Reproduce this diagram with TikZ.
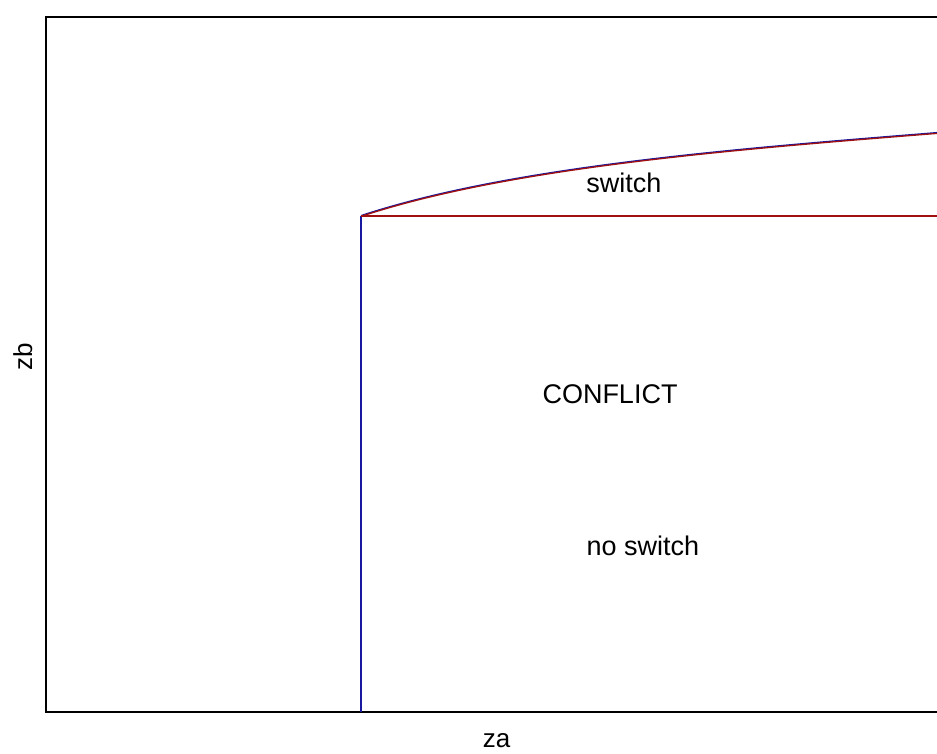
\documentclass[tikz,border=0pt]{standalone}
\usepackage{fontspec}
\setmainfont{Liberation Sans}
\definecolor{lineblue}{RGB}{24,24,160}
\definecolor{linered}{RGB}{160,16,16}
\begin{document}
\begin{tikzpicture}[x=1pt,y=-1pt,
  lbl/.style={font=\fontsize{27}{30}\selectfont, inner sep=0pt, anchor=base},
  axislbl/.style={font=\fontsize{26}{30}\selectfont, inner sep=0pt, anchor=base},
  bluecurve/.style={draw=lineblue, line width=1.3pt},
  redcurve/.style={draw=linered, line width=1.3pt}]
\useasboundingbox (0,0) rectangle (937,753);
\fill[white] (0,0) rectangle (937,753);
\begin{scope}
\clip (0,0) rectangle (937,753);
% plot frame
\draw[line width=2pt] (46,17) rectangle (945,712);
% corner and boundary coordinates
\coordinate (corner) at (361,216);
\coordinate (bottom) at (361,712);
\coordinate (rightend) at (940,216);
% curve (blue, then red overlaid)
\draw[bluecurve] (361,215.6) .. controls (511,166.1) and (737,148.6) .. (937,132.6);
\draw[redcurve] (361,216.4) .. controls (511,166.9) and (737,149.4) .. (937,133.4);
% vertical blue boundary
\draw[draw=lineblue, line width=1.3pt] (corner) -- (bottom);
% horizontal red boundary
\draw[draw=linered, line width=1.3pt] (corner) -- (rightend);
\end{scope}
% labels
\node[lbl] (sw) at (624,192) {switch};
\node[lbl] (cf) at (610,403) {CONFLICT};
\node[lbl] (ns) at (643,555) {no switch};
\node[axislbl] (za) at (496.5,747) {za};
\node[axislbl, rotate=90] (zb) at (32,357) {zb};
\end{tikzpicture}
\end{document}
